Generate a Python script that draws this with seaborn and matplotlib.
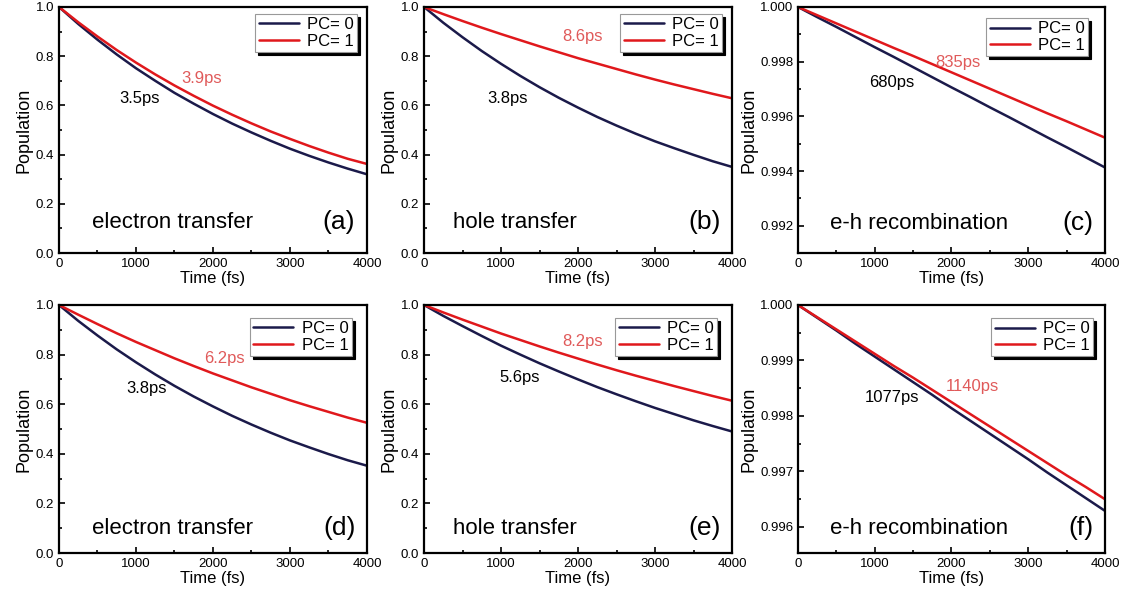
import numpy as np
import pandas as pd
import seaborn as sns
import matplotlib.pyplot as plt
from matplotlib.ticker import MultipleLocator, FormatStrFormatter

# time axis (fs)
time_fs = [0, 250, 500, 750, 1000, 1250, 1500, 1750, 2000,
           2250, 2500, 2750, 3000, 3250, 3500, 3750, 4000]

# populations, PC=0 / PC=1
pop_a0 = [1.00, 0.931, 0.867, 0.807, 0.751, 0.700, 0.651, 0.607, 0.565,
          0.526, 0.490, 0.456, 0.424, 0.395, 0.368, 0.343, 0.320]
pop_a1 = [1.00, 0.938, 0.880, 0.825, 0.774, 0.726, 0.681, 0.639, 0.599,
          0.562, 0.527, 0.494, 0.464, 0.435, 0.408, 0.383, 0.362]
pop_b0 = [1.00, 0.936, 0.877, 0.821, 0.769, 0.720, 0.674, 0.631, 0.591,
          0.553, 0.518, 0.485, 0.454, 0.426, 0.399, 0.373, 0.350]
pop_b1 = [1.00, 0.971, 0.943, 0.916, 0.890, 0.865, 0.840, 0.816, 0.792,
          0.770, 0.748, 0.726, 0.705, 0.685, 0.666, 0.647, 0.629]
pop_c0 = [1.0, 0.99963, 0.99927, 0.99890, 0.99853, 0.99817, 0.99780, 0.99743, 0.99706,
          0.99670, 0.99633, 0.99597, 0.99560, 0.99523, 0.99487, 0.99450, 0.99413]
pop_c1 = [1.0, 0.99970, 0.99940, 0.99910, 0.99880, 0.99850, 0.99821, 0.99791, 0.99761,
          0.99731, 0.99701, 0.99671, 0.99641, 0.99611, 0.99582, 0.99552, 0.99522]
pop_d0 = [1.00, 0.936, 0.877, 0.821, 0.769, 0.720, 0.674, 0.631, 0.591,
          0.553, 0.518, 0.485, 0.454, 0.426, 0.399, 0.374, 0.352]
pop_d1 = [1.00, 0.961, 0.923, 0.886, 0.851, 0.818, 0.785, 0.754, 0.724,
          0.696, 0.668, 0.642, 0.616, 0.592, 0.569, 0.546, 0.525]
pop_e0 = [1.00, 0.956, 0.915, 0.875, 0.836, 0.800, 0.765, 0.732, 0.700,
          0.669, 0.640, 0.612, 0.585, 0.560, 0.535, 0.512, 0.490]
pop_e1 = [1.00, 0.970, 0.941, 0.913, 0.885, 0.859, 0.833, 0.808, 0.784,
          0.760, 0.737, 0.715, 0.694, 0.673, 0.653, 0.633, 0.614]
pop_f0 = [1.0, 0.99977, 0.99954, 0.99930, 0.99907, 0.99884, 0.99861, 0.99838, 0.99814,
          0.99791, 0.99768, 0.99745, 0.99722, 0.99698, 0.99675, 0.99652, 0.99629]
pop_f1 = [1.0, 0.99978, 0.99956, 0.99934, 0.99912, 0.99890, 0.99869, 0.99847, 0.99825,
          0.99803, 0.99781, 0.99759, 0.99737, 0.99715, 0.99693, 0.99672, 0.99650]

series_labels = ["PC= 0", "PC= 1"]
process_names = ["electron transfer", "hole transfer", "e-h recombination",
                 "electron transfer", "hole transfer", "e-h recombination"]
panel_tags = ["(a)", "(b)", "(c)", "(d)", "(e)", "(f)"]
lifetime_0 = ["3.5ps", "3.8ps", "680ps", "3.8ps", "5.6ps", "1077ps"]
lifetime_1 = ["3.9ps", "8.6ps", "835ps", "6.2ps", "8.2ps", "1140ps"]

pops = [(pop_a0, pop_a1), (pop_b0, pop_b1), (pop_c0, pop_c1),
        (pop_d0, pop_d1), (pop_e0, pop_e1), (pop_f0, pop_f1)]

navy = "#1b1a4a"
red = "#e0181c"
red_text = "#e05a5a"

sns.set_style("ticks")
plt.rcParams["font.family"] = ["Liberation Sans", "DejaVu Sans"]
plt.rcParams["text.color"] = "black"
plt.rcParams["axes.labelcolor"] = "black"
plt.rcParams["xtick.color"] = "black"
plt.rcParams["ytick.color"] = "black"

fig = plt.figure(figsize=(11.26, 6.03), dpi=100)

# axes rectangles (figure fraction)
rects = [
    (0.0524, 0.5804, 0.2735, 0.408),
    (0.3766, 0.5804, 0.2735, 0.408),
    (0.7087, 0.5804, 0.2726, 0.408),
    (0.0524, 0.0829, 0.2735, 0.4113),
    (0.3766, 0.0829, 0.2735, 0.4113),
    (0.7087, 0.0829, 0.2726, 0.4113),
]
ylims = [(0, 1), (0, 1), (0.991, 1.0), (0, 1), (0, 1), (0.99553, 1.0)]
ymajor = [0.2, 0.2, 0.002, 0.2, 0.2, 0.001]
yfmt = ["%.1f", "%.1f", "%.3f", "%.1f", "%.1f", "%.3f"]
label_pos0 = [(0.263, 0.63), (0.27, 0.63), (0.306, 0.694),
              (0.285, 0.665), (0.312, 0.706), (0.306, 0.628)]
label_pos1 = [(0.464, 0.71), (0.516, 0.882), (0.521, 0.776),
              (0.536, 0.786), (0.516, 0.851), (0.567, 0.672)]
text_y = [0.126, 0.126, 0.12, 0.10, 0.10, 0.10]
text_x = [0.107, 0.094, 0.104, 0.107, 0.094, 0.104]
leg_anchor = [(0.968, 0.972), (0.968, 0.972), (0.945, 0.955),
              (0.951, 0.948), (0.951, 0.948), (0.961, 0.947)]

for i in range(6):
    ax = fig.add_axes(rects[i])
    p0, p1 = pops[i]
    df = pd.DataFrame({
        "Time": time_fs * 2,
        "Population": p0 + p1,
        "PC": [series_labels[0]] * len(time_fs) + [series_labels[1]] * len(time_fs),
    })
    sns.lineplot(data=df, x="Time", y="Population", hue="PC",
                 palette=[navy, red], linewidth=1.8, ax=ax, legend=True)

    ax.set_xlim(0, 4000)
    ax.set_ylim(*ylims[i])
    ax.xaxis.set_major_locator(MultipleLocator(1000))
    ax.xaxis.set_minor_locator(MultipleLocator(500))
    ax.yaxis.set_major_locator(MultipleLocator(ymajor[i]))
    ax.yaxis.set_minor_locator(MultipleLocator(ymajor[i] / 2))
    ax.yaxis.set_major_formatter(FormatStrFormatter(yfmt[i]))
    ax.tick_params(which="both", direction="in", labelsize=9.5, width=1.2)
    ax.tick_params(which="major", length=4)
    ax.tick_params(which="minor", length=2.5)
    for s in ax.spines.values():
        s.set_linewidth(1.6)
        s.set_color("black")
    ax.set_xlabel("Time (fs)", fontsize=12, labelpad=1)
    ax.set_ylabel("Population", fontsize=13, labelpad=2)

    ax.text(text_x[i], text_y[i], process_names[i], transform=ax.transAxes,
            fontsize=16, va="center", ha="left")
    ax.text(0.962, text_y[i], panel_tags[i], transform=ax.transAxes,
            fontsize=19, va="center", ha="right")
    ax.text(*label_pos0[i], lifetime_0[i], transform=ax.transAxes,
            fontsize=12, color="black", ha="center", va="center")
    ax.text(*label_pos1[i], lifetime_1[i], transform=ax.transAxes,
            fontsize=12, color=red_text, ha="center", va="center")

    handles, labels = ax.get_legend_handles_labels()
    leg = ax.legend(handles, labels, loc="upper right", bbox_to_anchor=leg_anchor[i],
                    borderaxespad=0, fontsize=12, frameon=True, fancybox=False,
                    shadow={"color": "black", "alpha": 1.0},
                    handlelength=2.4, handletextpad=0.5, labelspacing=0.1,
                    borderpad=0.2, title=None)
    leg.get_frame().set_edgecolor("#999999")
    leg.get_frame().set_linewidth(0.8)
    leg.get_frame().set_alpha(1.0)

fig.savefig("out.png", dpi=100)
